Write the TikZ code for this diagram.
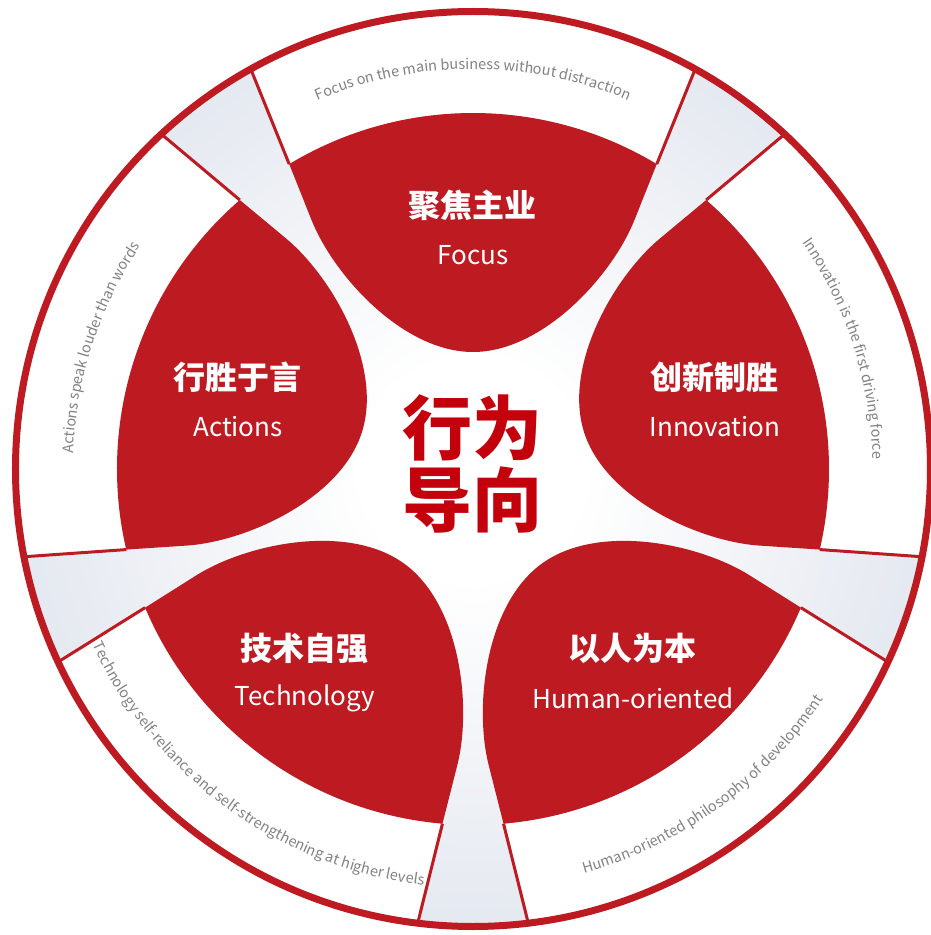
\documentclass[tikz,border=0pt]{standalone}
\usepackage{fontspec}
\setmainfont{Noto Sans CJK SC}
\usetikzlibrary{decorations.text,positioning}

\definecolor{petalred}{RGB}{190,26,34}
\definecolor{hubred}{RGB}{196,0,12}
\definecolor{gradgray}{RGB}{202,210,225}
\definecolor{bandgray}{RGB}{130,130,130}
\pgfdeclareradialshading{hubglow}{\pgfpoint{0bp}{0bp}}{color(0bp)=(white); color(6bp)=(white); color(44bp)=(gradgray); color(50bp)=(gradgray)}

\begin{document}
\begin{tikzpicture}[x=1pt, y=1pt, node distance=50pt,
  seam/.style={draw=petalred, line width=3},
  petal/.style={fill=petalred},
  band/.style={fill=white},
  title/.style={text=white, font=\fontsize{32}{34}\selectfont\bfseries},
  subtitle/.style={text=white, font=\fontsize{26}{28}\selectfont},
  motto/.style={postaction={decorate}, decoration={text along path, text align=center, text color=bandgray, text={|\fontsize{14.5}{16}\selectfont|#1}}}]
\fill[white] (-473,-466) rectangle (458,469);
\useasboundingbox (-473,-466) rectangle (458,469);

% 底色渐变
\shade[shading=hubglow] (0,0) circle[radius=456];

% 五个扇区：白色外带 + 红色花瓣
\foreach \a in {90,18,-54,-126,162} {
  \begin{scope}[rotate=\a-90]
    \fill[band] (119.05:456) arc[start angle=119.05, end angle=60.95, radius=456]
      -- (58.92:356) arc[start angle=58.92, end angle=121.08, radius=356] -- cycle;
    \fill[petal] (121.08:356) arc[start angle=121.08, end angle=58.92, radius=356]
      -- (161.5,249.1) .. controls (139.3,193.4) and (70,117) .. (0,117)
      .. controls (-70,117) and (-139.3,193.4) .. (-161.5,249.1) -- cycle;
    \draw[seam] (119.05:458) -- (121.08:356);
    \draw[seam] (60.95:458) -- (58.92:356);
  \end{scope}
}

% 外圈
\draw[draw=petalred, line width=7] (0,0) circle[radius=457.5];

% 中心标题
\node[text=hubred, align=center, font=\fontsize{70}{72}\selectfont\bfseries] (hub) at (0,5) {行为\\导向};

% 花瓣标题
\node[title] (focus) at (0,264) {聚焦主业};
\node[subtitle, below of=focus] (focusen) {Focus};
\node[title] (innov) at (242,92) {创新制胜};
\node[subtitle, below of=innov] (innoven) {Innovation};
\node[title] (human) at (160,-179) {以人为本};
\node[subtitle, below of=human] (humanen) {Human-oriented};
\node[title] (tech) at (-168,-179) {技术自强};
\node[subtitle, below of=tech] (techen) {Technology};
\node[title] (act) at (-235,92) {行胜于言};
\node[subtitle, below of=act] (acten) {Actions};

% 外带文字
\path[motto={Focus on the main business without distraction}] (130:400) arc[start angle=130, end angle=50, radius=400];
\path[motto={Innovation is the first driving force}] (58:400) arc[start angle=58, end angle=-22, radius=400];
\path[motto={Actions speak louder than words}] (202:400) arc[start angle=202, end angle=122, radius=400];
\path[motto={Technology self-reliance and self-strengthening at higher levels}] (194:419) arc[start angle=194, end angle=274, radius=419];
\path[motto={Human-oriented philosophy of development}] (266:419) arc[start angle=266, end angle=346, radius=419];
\end{tikzpicture}
\end{document}
